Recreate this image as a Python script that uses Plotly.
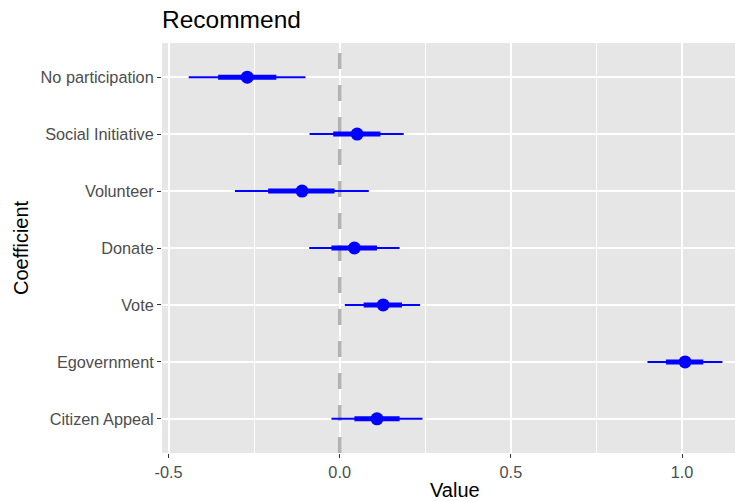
import plotly.graph_objects as go

coefs = ["No participation", "Social Initiative", "Volunteer", "Donate",
         "Vote", "Egovernment", "Citizen Appeal"]
value = [-0.270, 0.051, -0.110, 0.043, 0.127, 1.009, 0.109]
inner_lo = [-0.355, -0.019, -0.209, -0.024, 0.070, 0.953, 0.043]
inner_hi = [-0.185, 0.119, -0.015, 0.109, 0.182, 1.062, 0.175]
outer_lo = [-0.441, -0.088, -0.306, -0.089, 0.015, 0.899, -0.024]
outer_hi = [-0.100, 0.187, 0.085, 0.175, 0.235, 1.118, 0.242]
ref_x = 0.0
x_ticks = [-0.5, 0.0, 0.5, 1.0]
x_ticklabels = ["-0.5", "0.0", "0.5", "1.0"]

BLUE = "#0000ff"
FONT = "Liberation Sans, Arial, sans-serif"

ypos = list(range(len(coefs)))
y_top = -0.6
y_bottom = len(coefs) - 1 + 0.6


def seg(lo, hi, ys_in):
    xs, ys = [], []
    for a, b, c in zip(lo, hi, ys_in):
        xs += [a, b, None]
        ys += [c, c, None]
    return xs, ys


fig = go.Figure()
# reference line at x = 0 (drawn first so it sits under the estimates)
fig.add_trace(go.Scatter(x=[ref_x, ref_x], y=[y_bottom, y_top], mode="lines",
                         line=dict(color="#b3b3b3", width=3.5, dash="16px,16px"),
                         hoverinfo="skip"))
ox, oy = seg(outer_lo, outer_hi, ypos)
fig.add_trace(go.Scatter(x=ox, y=oy, mode="lines",
                         line=dict(color=BLUE, width=2), hoverinfo="skip"))
ix, iy = seg(inner_lo, inner_hi, ypos)
fig.add_trace(go.Scatter(x=ix, y=iy, mode="lines",
                         line=dict(color=BLUE, width=5), hoverinfo="skip"))
fig.add_trace(go.Scatter(x=value, y=ypos, mode="markers", text=coefs,
                         marker=dict(color=BLUE, size=13, line=dict(width=0))))

fig.update_layout(
    width=735, height=501,
    margin=dict(l=162, r=0, t=43, b=48),
    paper_bgcolor="white",
    plot_bgcolor="#e6e6e6",
    showlegend=False,
    font=dict(family=FONT),
    title=dict(text="Recommend", x=0, xref="paper", xanchor="left",
               y=1 - 19.6 / 501, yref="container", yanchor="middle",
               font=dict(size=24.5, color="black", family=FONT)),
    xaxis=dict(range=[-0.519, 1.1547], tickvals=x_ticks, ticktext=x_ticklabels,
               showgrid=True, gridcolor="white", gridwidth=1.6,
               minor=dict(dtick=0.25, tick0=0, showgrid=True, gridcolor="white",
                          gridwidth=0.8, ticks=""),
               zeroline=False, showline=False,
               ticks="outside", ticklen=4, tickwidth=1.1, tickcolor="#333333",
               tickfont=dict(size=16.3, color="#4d4d4d", family=FONT)),
    yaxis=dict(range=[y_bottom, y_top], tickvals=ypos, ticktext=coefs,
               showgrid=True, gridcolor="white", gridwidth=1.6,
               zeroline=False, showline=False,
               ticks="outside", ticklen=4, tickwidth=1.1, tickcolor="#333333",
               tickfont=dict(size=16.3, color="#4d4d4d", family=FONT)),
    annotations=[
        dict(text="Value", x=(455 - 162) / 573, xref="paper", xanchor="center",
             y=-(490 - 453) / 410, yref="paper", yanchor="middle", showarrow=False,
             font=dict(size=20, color="black", family=FONT)),
        dict(text="Coefficient", textangle=-90, x=-(162 - 21) / 573, xref="paper",
             xanchor="center", y=(453 - 248) / 410, yref="paper", yanchor="middle",
             showarrow=False, font=dict(size=20, color="black", family=FONT)),
    ],
)

fig.write_html("out.html")
